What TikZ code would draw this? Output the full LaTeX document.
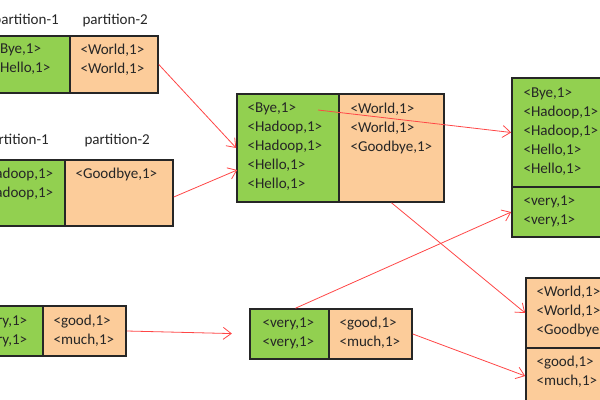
\documentclass[tikz,border=0pt]{standalone}
\usepackage{fontspec}
\setmainfont{Carlito}
\usetikzlibrary{fit,calc,arrows.meta}

\definecolor{mapgreen}{RGB}{146,208,80}
\definecolor{maporange}{RGB}{252,204,154}
\definecolor{flowred}{RGB}{255,70,70}

\tikzset{every picture/.style={line width=0.75pt}}
\tikzset{
  greenbox/.style={draw=black!85,line width=1.2pt,fill=mapgreen,inner sep=0pt},
  orangebox/.style={draw=black!85,line width=1.2pt,fill=maporange,inner sep=0pt},
  txt/.style={anchor=west,inner sep=0pt,align=left,text=black!85,font=\fontsize{11.3}{14.25}\selectfont},
  flow/.style={draw=flowred,line width=0.6pt,-{Straight Barb[length=6pt,width=9pt]}}
}

\begin{document}
\begin{tikzpicture}[x=0.75pt,y=0.75pt,yscale=-1,xscale=1]
\useasboundingbox (0,0) rectangle (600,400);
\clip (0,0) rectangle (600,400);

% Map output 1
\node[txt] (lab1a) at (-7,21) {partition-1};
\node[txt] (lab1b) at (82,21) {partition-2};
\node[greenbox,fit={(-60,36) (70,93)}] (map1g) {};
\node[orangebox,fit={(70,36) (158,93)}] (map1o) {};
\node[txt] (map1gt) at (-8,59.5) {<Bye,1>\\<Hello,1>};
\node[txt] (map1ot) at (80,59.5) {<World,1>\\<World,1>};

% Map output 2
\node[txt] (lab2a) at (-17,141) {partition-1};
\node[txt] (lab2b) at (84,141) {partition-2};
\node[greenbox,fit={(-60,160) (65,226)}] (map2g) {};
\node[orangebox,fit={(65,160) (173,226)}] (map2o) {};
\node[txt] (map2gt) at (-22,183.5) {<Hadoop,1>\\<Hadoop,1>};
\node[txt] (map2ot) at (75,174) {<Goodbye,1>};

% Map output 3
\node[greenbox,fit={(-60,306) (43,356)}] (map3g) {};
\node[orangebox,fit={(43,306) (126,356)}] (map3o) {};
\node[txt] (map3gt) at (-25,331) {<very,1>\\<very,1>};
\node[txt] (map3ot) at (53,331) {<good,1>\\<much,1>};

% Merged
\node[greenbox,fit={(237,94) (339,202)}] (midg) {};
\node[orangebox,fit={(339,94) (444,202)}] (mido) {};
\node[txt] (midgt) at (247,147) {<Bye,1>\\<Hadoop,1>\\<Hadoop,1>\\<Hello,1>\\<Hello,1>};
\node[txt] (midot) at (350,128) {<World,1>\\<World,1>\\<Goodbye,1>};
\coordinate (byeend) at (318,110);

\node[greenbox,fit={(250,309) (329,359)}] (midvg) {};
\node[orangebox,fit={(329,309) (412,359)}] (midvo) {};
\node[txt] (midvgt) at (262,333) {<very,1>\\<very,1>};
\node[txt] (midvot) at (339,333) {<good,1>\\<much,1>};

% Reduce inputs
\node[greenbox,fit={(512,78) (620,187)}] (outg1) {};
\node[greenbox,fit={(512,187) (620,237)}] (outg2) {};
\node[txt] (outg1t) at (523,131.5) {<Bye,1>\\<Hadoop,1>\\<Hadoop,1>\\<Hello,1>\\<Hello,1>};
\node[txt] (outg2t) at (523,211) {<very,1>\\<very,1>};
\node[orangebox,fit={(526,278) (620,348)}] (outo1) {};
\node[orangebox,fit={(526,348) (620,404)}] (outo2) {};
\node[txt] (outo1t) at (536,311.5) {<World,1>\\<World,1>\\<Goodbye,1>};
\node[txt] (outo2t) at (536,372) {<good,1>\\<much,1>};

% Arrows
\draw[flow] (map1o.east) -- (midg.west);
\draw[flow] ($(map2o.east)+(0,4)$) -- ($(midg.west)+(1,22)$);
\draw[flow,shorten >=13] (map3o.east) -- (midvg.west);
\draw[flow] (byeend) -- (outg1.west);
\draw[flow] (mido.south) -- (outo1.west);
\draw[flow] ($(midvg.north)+(6,0)$) -- (outg2.west);
\draw[flow] (midvo.east) -- (outo2.west);
\end{tikzpicture}
\end{document}
